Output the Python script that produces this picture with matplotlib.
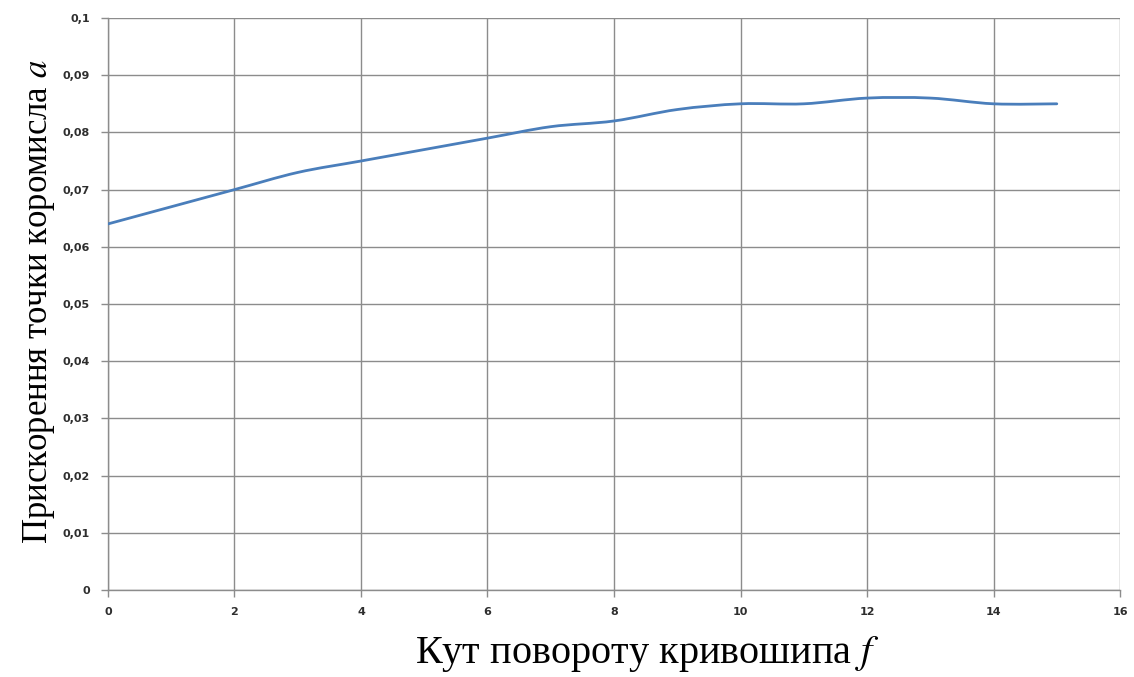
import matplotlib
matplotlib.use('Agg')
import numpy as np
import matplotlib.pyplot as plt
from matplotlib.path import Path
from matplotlib.patches import PathPatch
from matplotlib.ticker import FuncFormatter

# crank angle f and rocker point acceleration a
angle = [0, 1, 2, 3, 4, 5, 6, 7, 8, 9, 10, 11, 12, 13, 14, 15]
accel = [0.064, 0.067, 0.070, 0.073, 0.075, 0.077, 0.079, 0.081,
         0.082, 0.084, 0.085, 0.085, 0.086, 0.086, 0.085, 0.085]

x_ticks = list(range(0, 17, 2))
y_ticks = [i / 100 for i in range(0, 11)]


def smooth_path(xs, ys):
    """excel-like smoothed line: cubic bezier through the points"""
    xs = np.asarray(xs, float)
    ys = np.asarray(ys, float)
    n = len(xs)
    verts = [(xs[0], ys[0])]
    codes = [Path.MOVETO]
    for i in range(n - 1):
        p0 = i - 1 if i > 0 else i
        p3 = i + 2 if i + 2 < n else i + 1
        c1 = (xs[i] + (xs[i + 1] - xs[p0]) / 6, ys[i] + (ys[i + 1] - ys[p0]) / 6)
        c2 = (xs[i + 1] - (xs[p3] - xs[i]) / 6, ys[i + 1] - (ys[p3] - ys[i]) / 6)
        verts += [c1, c2, (xs[i + 1], ys[i + 1])]
        codes += [Path.CURVE4] * 3
    return Path(verts, codes)


fig = plt.figure(figsize=(11.34, 6.77), dpi=100)
ax = fig.add_axes([0.0952, 0.1285, 0.8925, 0.8449])

patch = PathPatch(smooth_path(angle, accel), facecolor='none',
                  edgecolor='#4a7ebb', lw=2.0, capstyle='round', zorder=3)
ax.add_patch(patch)

ax.set_xlim(0, 16)
ax.set_ylim(0, 0.1)
ax.set_xticks(x_ticks)
ax.set_yticks(y_ticks)
ax.yaxis.set_major_formatter(FuncFormatter(lambda v, p: ('%g' % round(v, 3)).replace('.', ',')))

ax.grid(True, color='#8c8c8c', lw=1.0)
ax.set_axisbelow(True)
for side in ['top', 'right']:
    ax.spines[side].set_visible(False)
for side in ['left', 'bottom']:
    ax.spines[side].set_color('#8c8c8c')
    ax.spines[side].set_linewidth(1.0)

ax.tick_params(axis='both', colors='#8c8c8c', length=5, width=1.0,
               labelcolor='#2e2e2e', labelsize=8)
for lab in ax.get_xticklabels() + ax.get_yticklabels():
    lab.set_fontweight('bold')
ax.tick_params(axis='x', pad=7)
ax.tick_params(axis='y', pad=8)

serif = 'Liberation Serif'
fig.text(0.571, 0.034, 'Кут повороту кривошипа $\\mathit{f}$', ha='center', va='center',
         fontsize=29, family=serif, math_fontfamily='stix')
fig.text(0.034, 0.554, 'Прискорення точки коромисла $\\mathit{a}$', ha='center', va='center',
         rotation=90, fontsize=25, family=serif, math_fontfamily='stix')

fig.savefig('out.png', dpi=100)
